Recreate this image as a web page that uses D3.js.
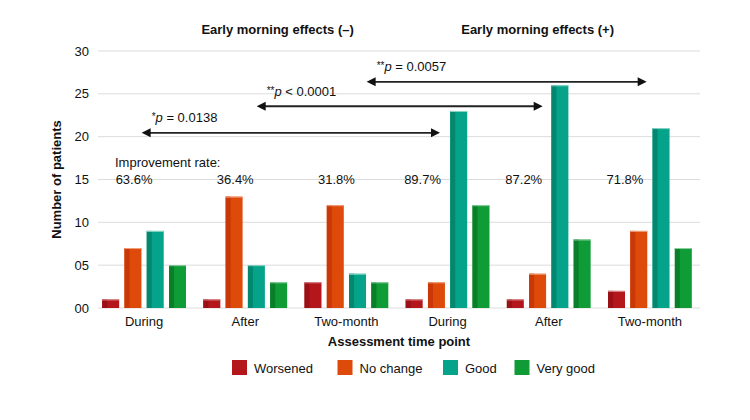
<!DOCTYPE html>
<html lang="en">
<head>
    <meta charset="UTF-8">
    <title>Early morning effects</title>
    <script src="https://d3js.org/d3.v7.min.js"></script>
    <style>
        body { margin: 0; background: #fff; }
        text { font-family: "Liberation Sans", Arial, sans-serif; fill: #111; }
    </style>
</head>
<body>
    <div id="chart"></div>
    <script>
        // Data
        const groups = ["g1", "g2", "g3", "g4", "g5", "g6"];
        const groupLabels = ["During", "After", "Two-month", "During", "After", "Two-month"];
        const panels = ["-", "-", "-", "+", "+", "+"];
        const series = ["Worsened", "No change", "Good", "Very good"];
        const worsened = [1, 1, 3, 1, 1, 2];
        const noChange = [7, 13, 12, 3, 4, 9];
        const good = [9, 5, 4, 23, 26, 21];
        const veryGood = [5, 3, 3, 12, 8, 7];
        const rates = ["63.6%", "36.4%", "31.8%", "89.7%", "87.2%", "71.8%"];
        const yTicks = [0, 5, 10, 15, 20, 25, 30];
        const comparisons = [
            { from: 0, to: 3, stars: "*", op: "=", p: "0.0138" },
            { from: 1, to: 4, stars: "**", op: "<", p: "0.0001" },
            { from: 2, to: 5, stars: "**", op: "=", p: "0.0057" }
        ];

        const values = [worsened, noChange, good, veryGood];
        const colors = ["#b3171c", "#de4a0a", "#05a38a", "#0f9b35"];
        const darks = ["#9a1015", "#c93806", "#03876f", "#0a7f2a"];
        const lights = ["#d98a8c", "#f0a27f", "#8fd6c8", "#8fd0a2"];

        const width = 750, height = 420;
        const svg = d3.select("#chart").append("svg")
            .attr("width", width)
            .attr("height", height);

        const x0 = d3.scaleBand().domain(groups).range([93.5, 700.5]);
        const x1 = d3.scaleBand().domain(series).range([0, x0.bandwidth()])
            .paddingInner(0.238).paddingOuter(0.39);
        const y = d3.scaleLinear().domain([0, 30]).range([308, 51]);
        // continuous position in "group units" for annotations
        const u = d3.scaleLinear().domain([0, 6]).range(x0.range());

        // gridlines
        svg.append("g")
            .selectAll("line")
            .data(yTicks)
            .join("line")
            .attr("x1", 98).attr("x2", 700)
            .attr("y1", d => y(d)).attr("y2", d => y(d))
            .attr("stroke", "#dcdcdc")
            .attr("stroke-width", 1);

        // y tick labels
        svg.append("g")
            .selectAll("text")
            .data(yTicks)
            .join("text")
            .attr("x", 89)
            .attr("y", d => y(d) + 4.5)
            .attr("text-anchor", "end")
            .attr("font-size", 13)
            .text(d => d3.format("02d")(d));

        svg.append("text")
            .attr("transform", `translate(61,${(y(0) + y(30)) / 2}) rotate(-90)`)
            .attr("text-anchor", "middle")
            .attr("font-size", 13)
            .attr("font-weight", "bold")
            .text("Number of patients");

        // bars
        const barData = [];
        groups.forEach((g, gi) => {
            series.forEach((s, si) => {
                barData.push({ g, s, si, v: values[si][gi] });
            });
        });

        const bar = svg.append("g")
            .selectAll("g")
            .data(barData)
            .join("g")
            .attr("transform", d => `translate(${x0(d.g) + x1(d.s)},0)`);

        bar.append("rect")
            .attr("y", d => y(d.v))
            .attr("width", x1.bandwidth())
            .attr("height", d => y(0) - y(d.v))
            .attr("fill", d => colors[d.si]);

        bar.append("rect")
            .attr("y", d => y(d.v))
            .attr("width", 5)
            .attr("height", d => y(0) - y(d.v))
            .attr("fill", d => darks[d.si]);

        bar.append("line")
            .attr("x1", 0).attr("x2", x1.bandwidth())
            .attr("y1", d => y(d.v) + 0.5).attr("y2", d => y(d.v) + 0.5)
            .attr("stroke", d => lights[d.si])
            .attr("stroke-width", 1);

        // x labels
        svg.append("g")
            .selectAll("text")
            .data(groups)
            .join("text")
            .attr("x", d => x0(d) + x0.bandwidth() / 2)
            .attr("y", 326)
            .attr("text-anchor", "middle")
            .attr("font-size", 13)
            .text((d, i) => groupLabels[i]);

        svg.append("text")
            .attr("x", 399)
            .attr("y", 346)
            .attr("text-anchor", "middle")
            .attr("font-size", 13)
            .attr("font-weight", "bold")
            .text("Assessment time point");

        // panel titles
        svg.append("text")
            .attr("x", u(1.82)).attr("y", 34)
            .attr("text-anchor", "middle")
            .attr("font-size", 13)
            .attr("font-weight", "bold")
            .text("Early morning effects (\u2013)");

        svg.append("text")
            .attr("x", u(4.39)).attr("y", 34)
            .attr("text-anchor", "middle")
            .attr("font-size", 13)
            .attr("font-weight", "bold")
            .text("Early morning effects (+)");

        // improvement rates
        svg.append("text")
            .attr("x", 115).attr("y", 167)
            .attr("font-size", 13)
            .text("Improvement rate:");

        svg.append("g")
            .selectAll("text")
            .data(groups)
            .join("text")
            .attr("x", (d, i) => x0(d) + x0.bandwidth() / 2 + (panels[i] === "-" ? -10 : -25))
            .attr("y", 183.5)
            .attr("text-anchor", "middle")
            .attr("font-size", 13)
            .text((d, i) => rates[i]);

        // comparison arrows
        const arrowY = [20.45, 23.55, 26.4];
        const arrowFrom = [0.476, 1.613, 2.70];
        const arrowTo = [3.425, 4.44, 5.468];

        const arrows = svg.append("g")
            .selectAll("g")
            .data(comparisons)
            .join("g");

        arrows.append("line")
            .attr("x1", (d, i) => u(arrowFrom[i]) + 6)
            .attr("x2", (d, i) => u(arrowTo[i]) - 6)
            .attr("y1", (d, i) => y(arrowY[i]))
            .attr("y2", (d, i) => y(arrowY[i]))
            .attr("stroke", "#222")
            .attr("stroke-width", 1.8);

        arrows.append("path")
            .attr("d", (d, i) => {
                const a = u(arrowFrom[i]), b = u(arrowTo[i]), yy = y(arrowY[i]);
                return `M${a},${yy}L${a + 9},${yy - 4.5}L${a + 9},${yy + 4.5}Z` +
                       `M${b},${yy}L${b - 9},${yy - 4.5}L${b - 9},${yy + 4.5}Z`;
            })
            .attr("fill", "#111");

        const lab = arrows.append("text")
            .attr("x", (d, i) => u(arrowFrom[i]) + 10)
            .attr("y", (d, i) => y(arrowY[i]) - 10.5)
            .attr("font-size", 13);
        lab.append("tspan").attr("font-size", 10).attr("dy", -2).text(d => d.stars);
        lab.append("tspan").attr("font-style", "italic").attr("dy", 2).text("p");
        lab.append("tspan").text(d => ` ${d.op} ${d.p}`);

        // legend
        const legendX = [232, 337.5, 443, 514.5];
        const legend = svg.append("g")
            .selectAll("g")
            .data(series)
            .join("g")
            .attr("transform", (d, i) => `translate(${legendX[i]},360)`);

        legend.append("rect")
            .attr("width", 15).attr("height", 15)
            .attr("fill", (d, i) => colors[i]);

        legend.append("text")
            .attr("x", 22).attr("y", 13)
            .attr("font-size", 13)
            .text(d => d);
    </script>
</body>
</html>
